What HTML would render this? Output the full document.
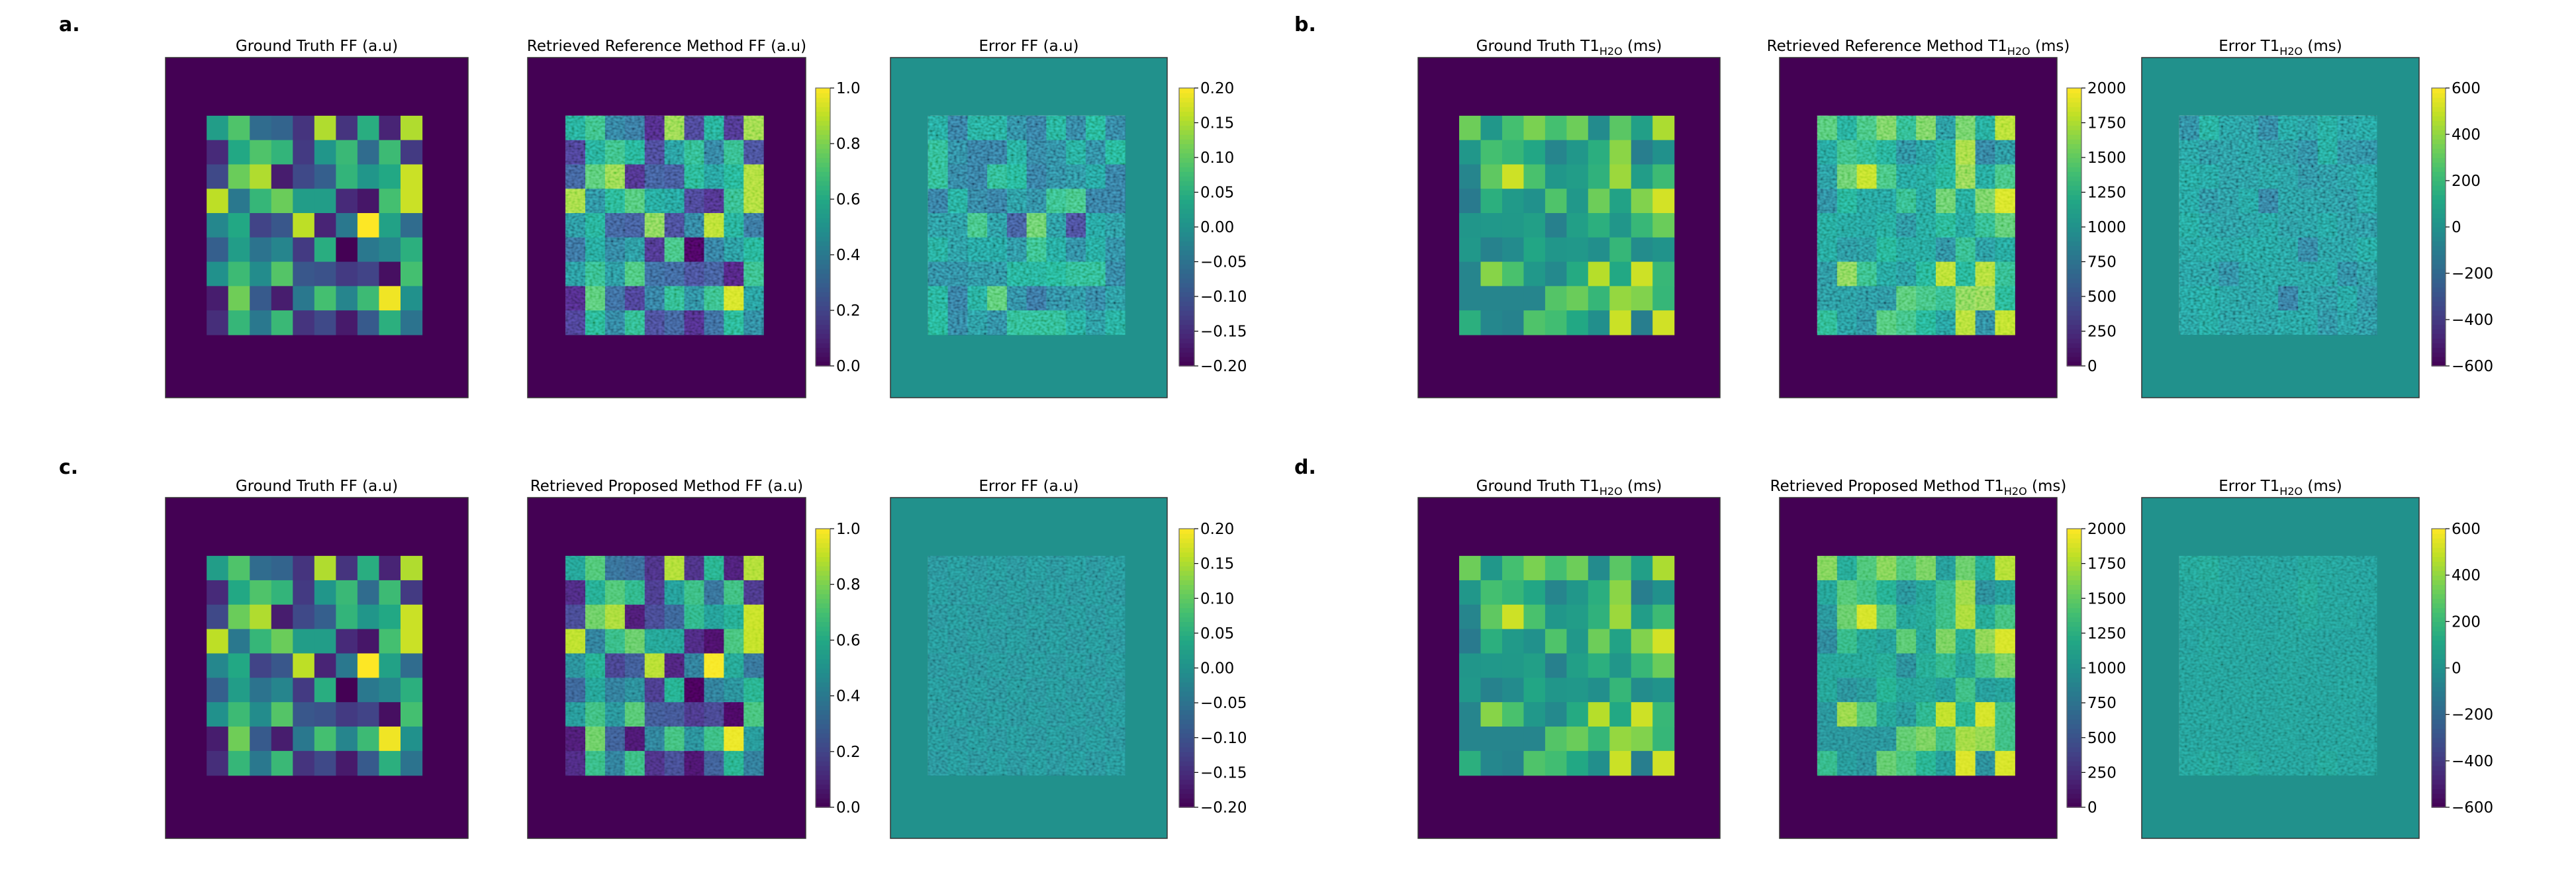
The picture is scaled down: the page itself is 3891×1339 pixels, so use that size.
<!DOCTYPE html>
<html><head><meta charset="utf-8"><style>
html,body{margin:0;padding:0;background:#fff;}
svg{display:block;font-family:"DejaVu Sans","Liberation Sans",sans-serif;}
.tex{mix-blend-mode:overlay;}
</style></head><body>
<svg id="fig" width="3891" height="1339" viewBox="0 0 3891 1339" xmlns="http://www.w3.org/2000/svg">
<defs>
<filter id="noise" x="0" y="0" width="100%" height="100%">
<feTurbulence type="fractalNoise" baseFrequency="0.22 0.3" numOctaves="1" seed="3" result="n"/>
<feColorMatrix type="matrix" values="1.6 0 0 0 -0.3  1.6 0 0 0 -0.3  1.6 0 0 0 -0.3  0 0 0 0 1"/>
</filter>
</defs>
</svg>
<script>
// ---- data ----
const ffTruth = [
 [0.55,0.72,0.35,0.32,0.15,0.88,0.15,0.62,0.10,0.88],
 [0.12,0.60,0.72,0.65,0.17,0.52,0.67,0.35,0.68,0.17],
 [0.22,0.77,0.88,0.08,0.22,0.30,0.65,0.52,0.60,0.92],
 [0.90,0.40,0.66,0.77,0.55,0.55,0.12,0.06,0.70,0.92],
 [0.46,0.60,0.20,0.27,0.90,0.10,0.40,1.00,0.57,0.35],
 [0.30,0.55,0.38,0.45,0.17,0.62,0.00,0.40,0.45,0.63],
 [0.50,0.68,0.48,0.73,0.27,0.25,0.17,0.20,0.04,0.70],
 [0.08,0.78,0.28,0.08,0.40,0.70,0.45,0.68,0.98,0.50],
 [0.13,0.66,0.40,0.67,0.15,0.22,0.07,0.28,0.63,0.38]];
const ffErrRef = [
 [0.01,-0.06,0.02,0.02,-0.04,-0.06,0.03,-0.05,0.04,-0.05],
 [0.05,-0.04,-0.06,-0.06,0.02,-0.05,-0.04,0.02,-0.04,0.04],
 [0.05,-0.05,-0.06,0.05,0.04,-0.06,-0.04,-0.03,0.00,-0.06],
 [-0.06,0.02,-0.05,-0.06,-0.02,-0.04,0.06,0.07,-0.06,-0.06],
 [-0.02,-0.02,0.07,-0.02,-0.10,0.10,-0.02,-0.12,0.00,-0.02],
 [0.02,-0.02,0.00,0.00,-0.03,0.06,0.01,-0.04,0.01,-0.04],
 [-0.04,-0.04,-0.03,-0.03,0.03,0.03,0.04,0.05,0.05,-0.05],
 [0.03,-0.06,0.02,0.09,-0.04,-0.07,-0.04,-0.03,-0.05,-0.02],
 [0.04,-0.05,-0.02,-0.04,0.05,0.05,0.05,0.02,-0.02,0.02]];
const ffErrProp = [
 [-0.02,-0.01,-0.02,-0.01,-0.02,-0.01,-0.02,-0.01,-0.02,-0.01],
 [-0.01,-0.02,-0.01,-0.02,-0.01,-0.02,-0.01,-0.02,-0.01,-0.02],
 [-0.02,-0.01,-0.02,-0.01,-0.02,-0.01,-0.02,-0.01,-0.02,-0.01],
 [-0.01,-0.02,-0.01,-0.02,-0.01,-0.02,-0.01,-0.02,-0.01,-0.02],
 [-0.02,-0.01,-0.02,-0.01,-0.02,-0.01,-0.02,-0.01,-0.02,-0.01],
 [-0.01,-0.02,-0.01,-0.02,-0.01,-0.02,-0.01,-0.02,-0.01,-0.02],
 [-0.02,-0.01,-0.02,-0.01,-0.02,-0.01,-0.02,-0.01,-0.02,-0.01],
 [-0.01,-0.02,-0.01,-0.02,-0.01,-0.02,-0.01,-0.02,-0.01,-0.02],
 [-0.02,-0.01,-0.02,-0.01,-0.02,-0.01,-0.02,-0.01,-0.02,-0.01]];
const t1Truth = [
 [1550,1050,1400,1600,1400,1550,950,1480,1120,1750],
 [1050,1400,1320,1180,900,1050,1250,1650,850,1000],
 [900,1500,1850,1420,1050,1100,1280,1700,1100,1360],
 [820,1260,1080,1000,1440,1060,1550,1150,1620,1870],
 [1040,1060,1070,1120,860,1120,1260,1040,1330,1540],
 [1060,880,950,1180,1040,1060,980,1320,960,1020],
 [900,1640,1420,1060,940,1220,1780,1200,1850,1330],
 [900,900,900,900,1460,1540,1320,1680,1620,1320],
 [1260,920,880,1440,1380,1200,980,1840,850,1860]];
const t1ErrRef = [
 [-120,60,-30,-50,-140,0,-40,40,-30,0],
 [-20,-80,-60,-30,-60,-80,-120,40,-100,-110],
 [20,0,-60,-50,-20,-40,-100,-80,-40,0],
 [0,-90,-60,0,-160,-40,-50,-60,-80,0],
 [30,-30,-60,-40,0,-60,-40,0,-60,-80],
 [-10,10,-20,10,0,-20,-150,-40,-40,20],
 [-30,-40,-120,-30,-10,-20,-20,-10,-120,-60],
 [0,20,-20,-40,-20,-180,-40,-80,0,-100],
 [-20,20,-40,-20,-40,-10,-10,-100,-40,-80]];
const t1ErrProp = [
 [40,60,10,0,10,0,30,20,10,0],
 [10,30,20,0,10,20,60,20,10,10],
 [20,0,10,10,0,10,40,20,20,0],
 [0,30,10,20,10,20,10,0,0,0],
 [10,20,10,10,0,20,10,0,10,10],
 [10,10,10,20,10,20,10,10,20,10],
 [10,20,10,10,10,20,10,10,10,0],
 [10,10,10,10,10,20,10,10,20,10],
 [20,40,10,40,10,10,10,40,10,10]];
const ffTicks = [0.0,0.2,0.4,0.6,0.8,1.0];
const ffTickLabels = ["0.0","0.2","0.4","0.6","0.8","1.0"];
const ffErrTicks = [-0.2,-0.15,-0.1,-0.05,0,0.05,0.1,0.15,0.2];
const ffErrTickLabels = ["\u22120.20","\u22120.15","\u22120.10","\u22120.05","0.00","0.05","0.10","0.15","0.20"];
const t1Ticks = [0,250,500,750,1000,1250,1500,1750,2000];
const t1TickLabels = ["0","250","500","750","1000","1250","1500","1750","2000"];
const t1ErrTicks = [-600,-400,-200,0,200,400,600];
const t1ErrTickLabels = ["\u2212600","\u2212400","\u2212200","0","200","400","600"];

// ---- helpers ----
const V=[[68,1,84],[72,36,117],[65,68,135],[53,95,141],[42,120,142],[33,145,140],[34,168,132],[68,191,112],[122,209,81],[189,223,38],[253,231,37]];
function viridis(t){t=Math.max(0,Math.min(1,t));const p=t*10,i=Math.min(9,Math.floor(p)),f=p-i;const a=V[i],b=V[i+1];return `rgb(${[0,1,2].map(k=>Math.round(a[k]+(b[k]-a[k])*f)).join(',')})`;}
const NS="http://www.w3.org/2000/svg";const svg=document.getElementById('fig');
function mk(tag,attrs,parent){const e=document.createElementNS(NS,tag);for(const k in attrs)e.setAttribute(k,attrs[k]);(parent||svg).appendChild(e);return e;}
const IX0=0.136,IX1=0.848,IY0=0.171,IY1=0.815;

function panel(name,x0,x1,y0,y1,grid,vmin,vmax,bgVal,titleHTML,texOpacity){
  const g=mk('g',{});
  
  
  mk('rect',{x:x0,y:y0,width:x1-x0,height:y1-y0,fill:viridis((bgVal-vmin)/(vmax-vmin))},g);
  const rows=grid.length,cols=grid[0].length;
  const gx0=x0+(x1-x0)*IX0,gx1=x0+(x1-x0)*IX1,gy0=y0+(y1-y0)*IY0,gy1=y0+(y1-y0)*IY1;
  const xs=c=>gx0+(gx1-gx0)*c/cols, ys=r=>gy0+(gy1-gy0)*r/rows;
  const cg=mk('g',{style:'isolation:isolate'},g);
  for(let r=0;r<rows;r++)for(let c=0;c<cols;c++){
    const cell=mk('rect',{x:xs(c),y:ys(r),width:xs(c+1)-xs(c)+0.6,height:ys(r+1)-ys(r)+0.6,fill:viridis((grid[r][c]-vmin)/(vmax-vmin))},cg);
    
    
  }
  if(texOpacity){
    mk('rect',{x:gx0,y:gy0,width:gx1-gx0,height:gy1-gy0,filter:'url(#noise)',opacity:texOpacity,class:'tex'},cg);
  }
  mk('rect',{x:x0,y:y0,width:x1-x0,height:y1-y0,fill:'none',stroke:'#333',"stroke-width":1.5},g);
  const t=mk('text',{x:(x0+x1)/2,y:y0-10,"text-anchor":"middle","font-size":23,fill:'#000'},g);
  t.innerHTML=titleHTML;
  
  
}
function colorbar(name,x0,x1,y0,y1,vmin,vmax,ticks,labels){
  const g=mk('g',{});
  
  
  const n=60;const ys=v=>y1-(y1-y0)*(v-vmin)/(vmax-vmin);
  for(let i=0;i<n;i++){mk('rect',{x:x0,y:y1-(y1-y0)*(i+1)/n,width:x1-x0,height:(y1-y0)/n+0.8,fill:viridis((i+0.5)/n)},g);}
  mk('rect',{x:x0,y:y0,width:x1-x0,height:y1-y0,fill:'none',stroke:'#666',"stroke-width":1.2},g);
  ticks.forEach((v,i)=>{const y=ys(v);
    mk('line',{x1:x1,x2:x1+6,y1:y,y2:y,stroke:'#000',"stroke-width":1.2},g);
    const t=mk('text',{x:x1+9,y:y+8,"font-size":23,fill:'#000'},g);t.textContent=labels[i];
    
    
  });
}
function add(a,b,lo,hi){return a.map((r,i)=>r.map((v,j)=>Math.max(lo,Math.min(hi,v+b[i][j]))));}

const rowsY=[[87,601],[752,1267]], cbY=[[133,553],[799,1220]];
const sub='T1<tspan font-size="16" dy="6">H2O</tspan><tspan dy="-6"> (ms)</tspan>';
[[ffErrRef,t1ErrRef,'Reference',0.45,0.5],[ffErrProp,t1ErrProp,'Proposed',0.3,0.35]].forEach((set,ri)=>{
  const [y0,y1]=rowsY[ri],[c0,c1]=cbY[ri];
  panel('ground-truth-ff',250,707,y0,y1,ffTruth,0,1,0,'Ground Truth FF (a.u)',0);
  panel('retrieved-ff',797,1217,y0,y1,add(ffTruth,set[0],0,1),0,1,0,`Retrieved ${set[2]} Method FF (a.u)`,set[3]);
  colorbar('ff-colorbar',1232,1254,c0,c1,0,1,ffTicks,ffTickLabels);
  panel('error-ff',1345,1763,y0,y1,set[0],-0.2,0.2,0,'Error FF (a.u)',set[4]);
  colorbar('ff-error-colorbar',1781,1804,c0,c1,-0.2,0.2,ffErrTicks,ffErrTickLabels);
  panel('ground-truth-t1',2142,2598,y0,y1,t1Truth,0,2000,0,'Ground Truth '+sub,0);
  panel('retrieved-t1',2688,3107,y0,y1,add(t1Truth,set[1],0,2000),0,2000,0,`Retrieved ${set[2]} Method `+sub,set[3]);
  colorbar('t1-colorbar',3122,3144,c0,c1,0,2000,t1Ticks,t1TickLabels);
  panel('error-t1',3235,3654,y0,y1,set[1],-600,600,0,'Error '+sub,set[4]);
  colorbar('t1-error-colorbar',3673,3694,c0,c1,-600,600,t1ErrTicks,t1ErrTickLabels);
});
[['a.',89,47],['b.',1955,47],['c.',89,716],['d.',1955,716]].forEach(([s,x,y])=>{
  const t=mk('text',{x:x,y:y,"font-size":30,"font-weight":"bold",fill:'#000'});t.textContent=s;
  
  
});
</script>
</body></html>
